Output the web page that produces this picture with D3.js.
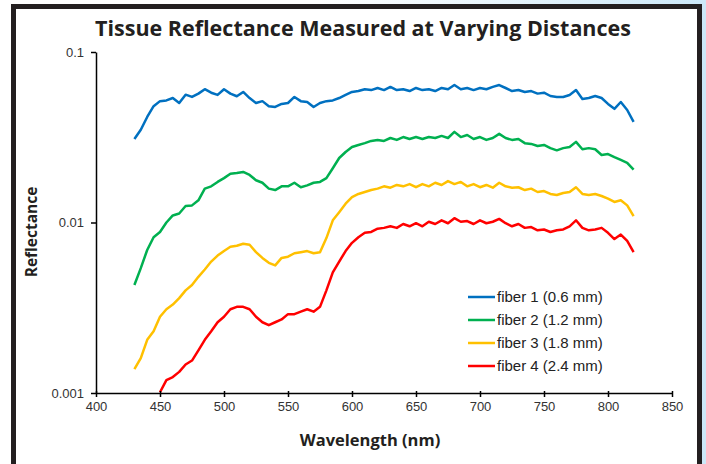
<!DOCTYPE html>
<html>
<head>
<meta charset="utf-8">
<script src="https://cdn.jsdelivr.net/npm/d3@7"></script>
<style>
  body { margin: 0; }
  svg { display: block; }
</style>
</head>
<body>
<svg id="chart" width="706" height="464"></svg>
<script>
// wavelengths in nm, 5 nm steps
var wavelengths = d3.range(430, 821, 5);
var redWavelengths = d3.range(450, 821, 5);

var fiber1 = [0.0309, 0.035, 0.0416, 0.0481, 0.0515, 0.052, 0.0537, 0.0502, 0.0562, 0.0545,
  0.057, 0.0605, 0.0577, 0.056, 0.0605, 0.057, 0.055, 0.0583, 0.0537, 0.0502,
  0.0515, 0.0481, 0.0476, 0.0496, 0.0502, 0.0545, 0.0515, 0.0509, 0.0476, 0.0502,
  0.0515, 0.052, 0.0537, 0.056, 0.0583, 0.059, 0.0605, 0.0598, 0.0615, 0.0598,
  0.0624, 0.0598, 0.0605, 0.059, 0.0615, 0.0598, 0.0605, 0.059, 0.0615, 0.0605,
  0.064, 0.0605, 0.0615, 0.0598, 0.0615, 0.0605, 0.0624, 0.064, 0.0615, 0.059,
  0.0598, 0.0583, 0.059, 0.057, 0.0577, 0.0552, 0.0545, 0.0545, 0.056, 0.0598,
  0.053, 0.0537, 0.0552, 0.0537, 0.0496, 0.0464, 0.0509, 0.0457, 0.0389];

var fiber2 = [0.0043, 0.0054, 0.0069, 0.0082, 0.0088, 0.0100, 0.0110, 0.0113, 0.0125, 0.0126,
  0.0135, 0.0158, 0.0163, 0.0173, 0.0182, 0.0193, 0.0195, 0.0198, 0.019, 0.0177,
  0.0171, 0.0158, 0.0155, 0.0163, 0.0163, 0.0171, 0.0161, 0.0165, 0.0171, 0.0173,
  0.0182, 0.0208, 0.0239, 0.0259, 0.0277, 0.0285, 0.0292, 0.0301, 0.0305, 0.0301,
  0.0313, 0.0305, 0.0317, 0.0309, 0.0317, 0.0309, 0.0317, 0.0313, 0.0322, 0.0313,
  0.034, 0.0317, 0.0326, 0.0309, 0.0317, 0.0305, 0.0313, 0.0331, 0.0313, 0.0305,
  0.0309, 0.0292, 0.0289, 0.0281, 0.0285, 0.0273, 0.0265, 0.0273, 0.0277, 0.0297,
  0.0269, 0.0273, 0.0269, 0.0249, 0.0252, 0.0242, 0.0233, 0.0224, 0.0204];

var fiber3 = [0.00138, 0.0016, 0.00205, 0.0023, 0.0028, 0.0031, 0.0033, 0.0036, 0.0040, 0.0043,
  0.0048, 0.0053, 0.0059, 0.0064, 0.0068, 0.0072, 0.0073, 0.0075, 0.0074, 0.0067,
  0.0062, 0.0058, 0.0056, 0.0062, 0.0063, 0.0066, 0.0067, 0.0068, 0.0066, 0.0067,
  0.0081, 0.0103, 0.0115, 0.0129, 0.0141, 0.0147, 0.0151, 0.0155, 0.0158, 0.0163,
  0.016, 0.0166, 0.0163, 0.0168, 0.0161, 0.0168, 0.0163, 0.0171, 0.0166, 0.0175,
  0.0168, 0.0173, 0.0163, 0.0168, 0.0161, 0.0166, 0.016, 0.0171, 0.0163, 0.016,
  0.0161, 0.0155, 0.0158, 0.0151, 0.0153, 0.0147, 0.0145, 0.0149, 0.0151, 0.0161,
  0.0147, 0.0145, 0.0147, 0.0143, 0.0138, 0.0132, 0.0135, 0.0126, 0.0109];

var fiber4 = [0.00101, 0.00119, 0.00124, 0.00133, 0.00147, 0.00155, 0.00178, 0.00205, 0.0023, 0.0026,
  0.0028, 0.0031, 0.0032, 0.0032, 0.0031, 0.0028, 0.0026, 0.0025, 0.0026, 0.0027,
  0.0029, 0.0029, 0.003, 0.0031, 0.003, 0.0032, 0.0040, 0.0051, 0.0059, 0.0068,
  0.0076, 0.0082, 0.0087, 0.0088, 0.0092, 0.0093, 0.0095, 0.0093, 0.0098, 0.0095,
  0.0099, 0.0095, 0.0101, 0.0098, 0.0103, 0.0099, 0.0106, 0.0101, 0.0102, 0.0098,
  0.0103, 0.0099, 0.0101, 0.0105, 0.0099, 0.0095, 0.0098, 0.0093, 0.0094, 0.009,
  0.0091, 0.0088, 0.009, 0.0091, 0.0095, 0.0103, 0.0093, 0.009, 0.0091, 0.0093,
  0.0087, 0.008, 0.0085, 0.0078, 0.0067];

var seriesNames = ["fiber 1 (0.6 mm)", "fiber 2 (1.2 mm)", "fiber 3 (1.8 mm)", "fiber 4 (2.4 mm)"];
var seriesColors = ["#0070c0", "#00b050", "#ffc000", "#ff0000"];
var xTicks = [400, 450, 500, 550, 600, 650, 700, 750, 800, 850];
var yTicks = [0.001, 0.01, 0.1];

var series = [
  { name: seriesNames[0], color: seriesColors[0], x: wavelengths, y: fiber1 },
  { name: seriesNames[1], color: seriesColors[1], x: wavelengths, y: fiber2 },
  { name: seriesNames[2], color: seriesColors[2], x: wavelengths, y: fiber3 },
  { name: seriesNames[3], color: seriesColors[3], x: redWavelengths, y: fiber4 }
];

var svg = d3.select("#chart");

// background and frame
var defs = svg.append("defs");
var grad = defs.append("linearGradient").attr("id", "bg").attr("x1", 0).attr("x2", 1).attr("y1", 0).attr("y2", 0);
grad.append("stop").attr("offset", "0%").attr("stop-color", "#ffffff");
grad.append("stop").attr("offset", "45%").attr("stop-color", "#ffffff");
grad.append("stop").attr("offset", "100%").attr("stop-color", "#cce8f8");
defs.append("clipPath").attr("id", "plotclip")
  .append("rect").attr("x", 96).attr("y", 40).attr("width", 580).attr("height", 353);

svg.append("rect").attr("width", 706).attr("height", 464).attr("fill", "url(#bg)");
svg.append("rect")
  .attr("x", 13.5).attr("y", 6.5).attr("width", 686).attr("height", 460)
  .attr("fill", "#ffffff").attr("stroke", "#231f20").attr("stroke-width", 5);

var x = d3.scaleLinear().domain([400, 850]).range([96, 672]);
var y = d3.scaleLog().domain([0.001, 0.1]).range([393, 52]);

// title
svg.append("text")
  .attr("x", 363).attr("y", 36)
  .attr("text-anchor", "middle")
  .style("font-family", "'Open Sans', sans-serif")
  .style("font-weight", "bold")
  .style("font-size", "21.5px")
  .style("fill", "#231f20")
  .text("Tissue Reflectance Measured at Varying Distances");

// lines
var line = d3.line()
  .x(function(d) { return x(d[0]); })
  .y(function(d) { return y(d[1]); });

svg.append("g").attr("clip-path", "url(#plotclip)")
  .selectAll("path")
  .data(series)
  .enter().append("path")
  .attr("d", function(s) { return line(s.x.map(function(w, i) { return [w, s.y[i]]; })); })
  .attr("fill", "none")
  .attr("stroke", function(s) { return s.color; })
  .attr("stroke-width", 2.5)
  .attr("stroke-linejoin", "round");

// axes
var xAxis = svg.append("g")
  .attr("transform", "translate(0,393)")
  .call(d3.axisBottom(x).tickValues(xTicks).tickSize(4).tickSizeOuter(0).tickPadding(5));
xAxis.selectAll(".tick line").attr("y1", -2);

var yAxis = svg.append("g")
  .attr("transform", "translate(96,0)")
  .call(d3.axisLeft(y).tickValues(yTicks).tickSize(5).tickSizeOuter(0).tickPadding(7)
    .tickFormat(function(d) { return String(d); }));

[xAxis, yAxis].forEach(function(a) {
  a.select(".domain").attr("stroke", "#000").attr("stroke-width", 1.5);
  a.selectAll(".tick line").attr("stroke", "#000").attr("stroke-width", 1.5);
  a.selectAll(".tick text")
    .style("font-family", "'Liberation Sans', Arial, sans-serif")
    .style("font-size", "13px")
    .style("fill", "#333");
});

// axis titles
svg.append("text")
  .attr("x", 370).attr("y", 446)
  .attr("text-anchor", "middle")
  .style("font-family", "'Open Sans', sans-serif")
  .style("font-weight", "bold")
  .style("font-size", "16.5px")
  .style("fill", "#231f20")
  .text("Wavelength (nm)");

svg.append("text")
  .attr("transform", "translate(37,232) rotate(-90)")
  .attr("text-anchor", "middle")
  .style("font-family", "'Open Sans', sans-serif")
  .style("font-weight", "bold")
  .style("font-size", "15.5px")
  .style("fill", "#231f20")
  .text("Reflectance");

// legend
var legend = svg.append("g").attr("class", "legend");
legend.selectAll("g").data(series)
  .enter().append("g")
  .each(function(d, i) {
    var g = d3.select(this);
    var ly = 297 + i * 23;
    g.append("line")
      .attr("x1", 468).attr("x2", 495)
      .attr("y1", ly).attr("y2", ly)
      .attr("stroke", d.color).attr("stroke-width", 2.5);
    g.append("text")
      .attr("x", 497).attr("y", ly + 5)
      .style("font-family", "'Liberation Sans', Arial, sans-serif")
      .style("font-size", "15px")
      .style("fill", "#222")
      .text(d.name);
  });
</script>
</body>
</html>
